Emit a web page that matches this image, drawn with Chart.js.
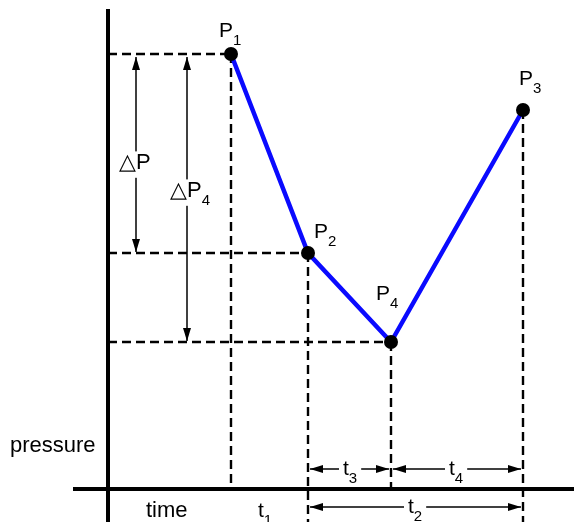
<!DOCTYPE html>
<html>
<head>
<meta charset="utf-8">
<script src="https://cdn.jsdelivr.net/npm/chart.js@4"></script>
<style>
  html, body { margin: 0; padding: 0; background: #fff; }
  #wrap { width: 574px; height: 522px; }
</style>
</head>
<body>
<div id="wrap"><canvas id="chart" width="574" height="522"></canvas></div>
<script>
// points along the pressure curve, in drawing order (P1 -> P2 -> P4 -> P3)
const pointNames = ['1', '2', '4', '3'];
const times = [1.23, 2.00, 2.83, 4.15];
const pressures = [4.35, 2.36, 1.47, 3.79];

// vertical guide from each point drops down to this pressure
const dropTo = [0, -0.33, -0.03, -0.33];
// points that get a horizontal guide back to the pressure axis
const levelGuides = [0, 1, 2];

// pressure drops: between two points, drawn at a fixed time
const deltaNames = ['', '4'];
const deltaFrom = [0, 0];
const deltaTo = [1, 2];
const deltaAt = [0.28, 0.79];

// time intervals: between two points, drawn at a fixed pressure
const spanNames = ['3', '4', '2'];
const spanFrom = [1, 2, 1];
const spanTo = [2, 3, 3];
const spanAt = [0.20, 0.20, -0.18];

// axis extents
const timeMin = -1.08, timeMax = 4.66;
const pressureMin = -0.33, pressureMax = 4.89;
const axisTop = 4.80, axisLeft = -0.35;

const FONT = '"Liberation Sans", Arial, sans-serif';

function seg(x1, y1, x2, y2) {
  return [{ x: x1, y: y1 }, { x: x2, y: y2 }];
}

const guide = { borderColor: '#000', borderWidth: 2.4, borderDash: [9, 5], pointRadius: 0, showLine: true, clip: false };

const datasets = [
  {
    data: times.map((t, i) => ({ x: t, y: pressures[i] })),
    showLine: true,
    borderColor: '#0a0aff',
    borderWidth: 4.5,
    pointRadius: 7,
    pointHoverRadius: 7,
    pointBackgroundColor: '#000',
    pointBorderWidth: 0,
    clip: false
  },
  ...levelGuides.map(i => Object.assign({ data: seg(0, pressures[i], times[i], pressures[i]) }, guide)),
  ...times.map((t, i) => Object.assign({ data: seg(t, pressures[i], t, dropTo[i]) }, guide)),
  { data: seg(0, pressureMin, 0, axisTop), showLine: true, borderColor: '#000', borderWidth: 4, pointRadius: 0, clip: false },
  { data: seg(axisLeft, 0, timeMax, 0), showLine: true, borderColor: '#000', borderWidth: 4, pointRadius: 0, clip: false }
];

function arrowHead(ctx, x, y, dx, dy) {
  // tip at (x,y), pointing in direction (dx,dy)
  const len = 13, half = 4;
  ctx.beginPath();
  ctx.moveTo(x, y);
  ctx.lineTo(x - dx * len - dy * half, y - dy * len + dx * half);
  ctx.lineTo(x - dx * len + dy * half, y - dy * len - dx * half);
  ctx.closePath();
  ctx.fill();
}

function doubleArrow(ctx, x1, y1, x2, y2) {
  const L = Math.hypot(x2 - x1, y2 - y1);
  const dx = (x2 - x1) / L, dy = (y2 - y1) / L;
  ctx.beginPath();
  ctx.moveTo(x1, y1);
  ctx.lineTo(x2, y2);
  ctx.stroke();
  arrowHead(ctx, x1, y1, -dx, -dy);
  arrowHead(ctx, x2, y2, dx, dy);
}

// main letter + subscript, left edge at x, baseline y; clearBg blanks the line behind it
function subLabel(ctx, main, sub, x, y, size, clearBg) {
  const subSize = Math.round(size * 0.7);
  ctx.font = size + 'px ' + FONT;
  const w1 = ctx.measureText(main).width;
  ctx.font = subSize + 'px ' + FONT;
  const w2 = sub ? ctx.measureText(sub).width : 0;
  if (clearBg) {
    ctx.fillStyle = '#fff';
    ctx.fillRect(x - 4, y - size * 0.8, w1 + w2 + 8, size * 1.2);
  }
  ctx.fillStyle = '#000';
  ctx.font = size + 'px ' + FONT;
  ctx.fillText(main, x, y);
  if (sub) {
    ctx.font = subSize + 'px ' + FONT;
    ctx.fillText(sub, x + w1, y + size * 0.38);
  }
}

const overlay = {
  id: 'overlay',
  afterDatasetsDraw(chart) {
    const { ctx, scales: { x, y } } = chart;
    ctx.save();
    ctx.textBaseline = 'alphabetic';
    ctx.strokeStyle = '#000';
    ctx.fillStyle = '#000';

    // point names
    const nameOffsets = [[-12, -17], [6, -15], [-15, -42], [-4, -25]];
    pointNames.forEach((n, i) => {
      const px = x.getPixelForValue(times[i]) + nameOffsets[i][0];
      const py = y.getPixelForValue(pressures[i]) + nameOffsets[i][1];
      subLabel(ctx, 'P', n, px, py, 21, false);
    });

    // pressure drop arrows
    const deltaLabelY = [169, 197];
    deltaNames.forEach((n, i) => {
      const px = x.getPixelForValue(deltaAt[i]);
      const top = y.getPixelForValue(pressures[deltaFrom[i]]) + 3;
      const bot = y.getPixelForValue(pressures[deltaTo[i]]) - 1;
      ctx.lineWidth = 1.5;
      doubleArrow(ctx, px, top, px, bot);
      subLabel(ctx, '\u25B3P', n, px - 17, deltaLabelY[i], 22, true);
    });

    // time interval arrows
    const spanLabelX = [343, 449, 408];
    spanNames.forEach((n, i) => {
      const a = x.getPixelForValue(times[spanFrom[i]]) + 2;
      const b = x.getPixelForValue(times[spanTo[i]]) - 2;
      const py = y.getPixelForValue(spanAt[i]);
      ctx.lineWidth = 1.7;
      doubleArrow(ctx, a, py, b, py);
      subLabel(ctx, 't', n, spanLabelX[i], py + 6, 21, true);
    });

    // axis words
    ctx.fillStyle = '#000';
    ctx.font = '22px ' + FONT;
    ctx.fillText('pressure', 10, 452);
    ctx.fillText('time', 146, 517);
    subLabel(ctx, 't', '1', 258, 517, 21, false);

    ctx.restore();
  }
};

new Chart(document.getElementById('chart'), {
  type: 'scatter',
  data: { datasets },
  options: {
    responsive: false,
    animation: false,
    layout: { padding: 0, autoPadding: false },
    plugins: { legend: { display: false }, tooltip: { enabled: false } },
    scales: {
      x: { type: 'linear', display: false, min: timeMin, max: timeMax },
      y: { type: 'linear', display: false, min: pressureMin, max: pressureMax }
    }
  },
  plugins: [overlay]
});
</script>
</body>
</html>
